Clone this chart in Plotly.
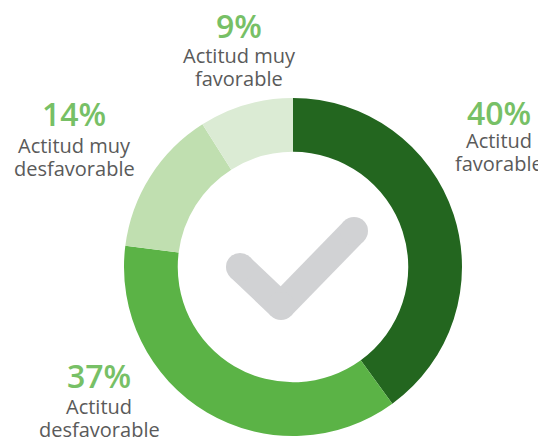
import plotly.graph_objects as go

# ---- data ----
categories = ["Actitud favorable", "Actitud desfavorable", "Actitud muy desfavorable", "Actitud muy favorable"]
values = [40, 37, 14, 9]
pct_labels = ["40%", "37%", "14%", "9%"]
label_lines = [["Actitud", "favorable"], ["Actitud", "desfavorable"],
               ["Actitud muy", "desfavorable"], ["Actitud muy", "favorable"]]
colors = ["#23661f", "#5bb346", "#c0dfb0", "#dbebd4"]

PAGE_W, PAGE_H = 546, 440
OFF = 8  # default body margin of the html page
W, H = PAGE_W - OFF, PAGE_H - OFF
CX, CY, R = 293, 267, 169  # page pixel coords

fig = go.Figure()
fig.add_trace(go.Pie(
    labels=categories, values=values, sort=False, direction="clockwise", rotation=0,
    hole=0.682, marker=dict(colors=colors, line=dict(width=0)),
    textinfo="none", hoverinfo="skip", showlegend=False,
    domain=dict(x=[(CX - R - OFF) / W, (CX + R - OFF) / W],
                y=[1 - (CY + R - OFF) / H, 1 - (CY - R - OFF) / H]),
))

# label placement (page pixel coords): (center x, percent center y, line1 center y, line2 center y)
label_pos = [(499, 112, 140, 163), (99, 375, 406, 429), (74, 113, 145, 168), (239, 25, 55, 78)]

FONT = "Open Sans"
annotations = []
for pct, lines, (x, yp, y1, y2) in zip(pct_labels, label_lines, label_pos):
    annotations.append(dict(x=x, y=yp, xref="x", yref="y", text=pct, showarrow=False,
                            xanchor="center", yanchor="middle",
                            font=dict(family=FONT, size=32, color="#77c066", weight=600)))
    for t, yy in zip(lines, (y1, y2)):
        annotations.append(dict(x=x, y=yy, xref="x", yref="y", text=t, showarrow=False,
                                xanchor="center", yanchor="middle",
                                font=dict(family=FONT, size=20, color="#5a5a5a")))

# checkmark decoration (page pixel coords)
chk = [(240, 267), (281, 306), (354, 231)]
hw = 14
shapes = []
for (x0, y0), (x1, y1) in zip(chk[:-1], chk[1:]):
    shapes.append(dict(type="line", xref="x", yref="y", x0=x0, y0=y0, x1=x1, y1=y1,
                       line=dict(color="#d1d2d4", width=2 * hw), layer="above"))
for (x, y) in chk:
    shapes.append(dict(type="circle", xref="x", yref="y", x0=x - hw, x1=x + hw, y0=y - hw, y1=y + hw,
                       fillcolor="#d1d2d4", line=dict(width=0), layer="above"))

fig.update_layout(
    width=W, height=H, margin=dict(l=0, r=0, t=0, b=0),
    paper_bgcolor="white", plot_bgcolor="rgba(0,0,0,0)",
    xaxis=dict(range=[OFF, PAGE_W], visible=False, fixedrange=True, domain=[0, 1]),
    yaxis=dict(range=[PAGE_H, OFF], visible=False, fixedrange=True, domain=[0, 1]),
    annotations=annotations, shapes=shapes, showlegend=False,
)

fig.write_html("out.html")
